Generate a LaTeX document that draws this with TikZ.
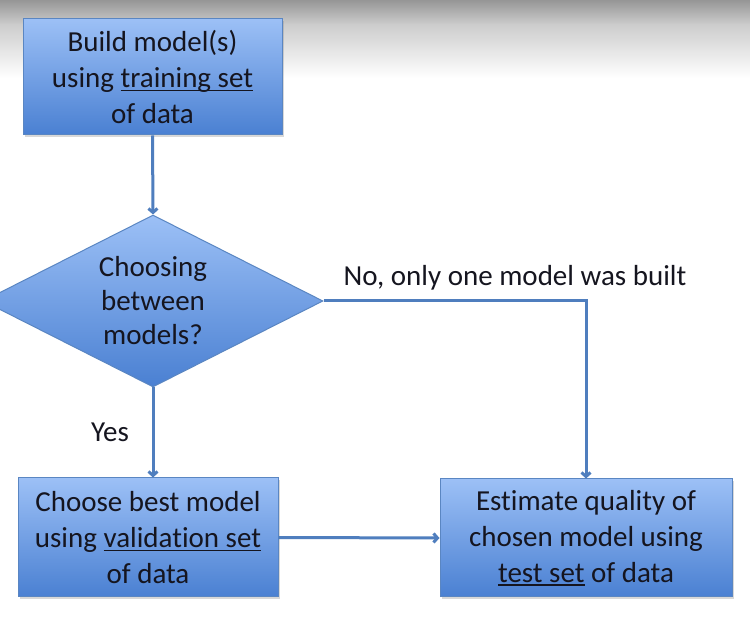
\documentclass[tikz,border=0pt]{standalone}
\usepackage{fontspec}
\setmainfont[Ligatures=NoCommon]{Carlito}
\usetikzlibrary{arrows.meta,shapes.geometric,shadows}
\definecolor{boxtop}{HTML}{9CC0F6}
\definecolor{boxbot}{HTML}{4A80D2}
\definecolor{boxline}{HTML}{5A86C2}
\definecolor{arrowc}{HTML}{4F7EBE}
\definecolor{txt}{HTML}{15151F}
\newcommand\myul[1]{\setbox0\hbox{#1}\rlap{\rule[-4pt]{\wd0}{1.6pt}}\box0\relax}
\tikzset{
  flowbox/.style={draw=boxline, line width=1pt, top color=boxtop, bottom color=boxbot,
    drop shadow={shadow xshift=1.5pt, shadow yshift=-2.5pt, opacity=0.3},
    align=center, text=txt, font=\fontsize{29}{36}\selectfont, inner sep=0pt},
  decision/.style={diamond, draw=boxline, line width=1pt, top color=boxtop, bottom color=boxbot,
    align=center, text=txt, font=\fontsize{29}{34}\selectfont, inner sep=0pt, aspect=2},
  flowarrow/.style={draw=arrowc, line width=3pt, -{Straight Barb[length=4pt,width=9pt]}},
  lbl/.style={text=txt, font=\fontsize{29}{34}\selectfont, inner sep=0pt}
}
\begin{document}
\begin{tikzpicture}[x=1pt,y=1pt]
\useasboundingbox (0,0) rectangle (750,632);
\clip (0,0) rectangle (750,632);
\fill[white] (0,0) rectangle (750,632);
\shade[top color={rgb,255:red,150;green,150;blue,150}, bottom color={rgb,255:red,205;green,205;blue,205}] (0,607) rectangle (750,632);
\shade[top color={rgb,255:red,205;green,205;blue,205}, bottom color=white] (0,554) rectangle (750,607.2);

\node[flowbox, minimum width=259pt, minimum height=116pt] (build) at (152.5,555)
  {Build model(s)\\using \myul{training set}\\of data};
\node[decision, minimum width=340pt, minimum height=172pt] (choose) at (153,331)
  {Choosing\\between\\models?};
\node[flowbox, minimum width=260pt, minimum height=119pt] (best) at (148,94.5)
  {Choose best model\\using \myul{validation set}\\of data};
\node[flowbox, minimum width=292pt, minimum height=118pt] (estimate) at (586,94)
  {Estimate quality of\\chosen model using\\\myul{test set} of data};

\coordinate (elbow) at (estimate.north |- choose.east);

\draw[flowarrow] (build.south) -- (choose.north);
\draw[flowarrow] (choose.south) -- (best.north -| choose.south);
\draw[flowarrow] (choose.east) -- (elbow) -- (estimate.north);
\draw[flowarrow] (best.east) -- (estimate.west);

\node[lbl] (no) at (515,354) {No, only one model was built};
\node[lbl] (yes) at (110,200) {Yes};
\end{tikzpicture}
\end{document}
